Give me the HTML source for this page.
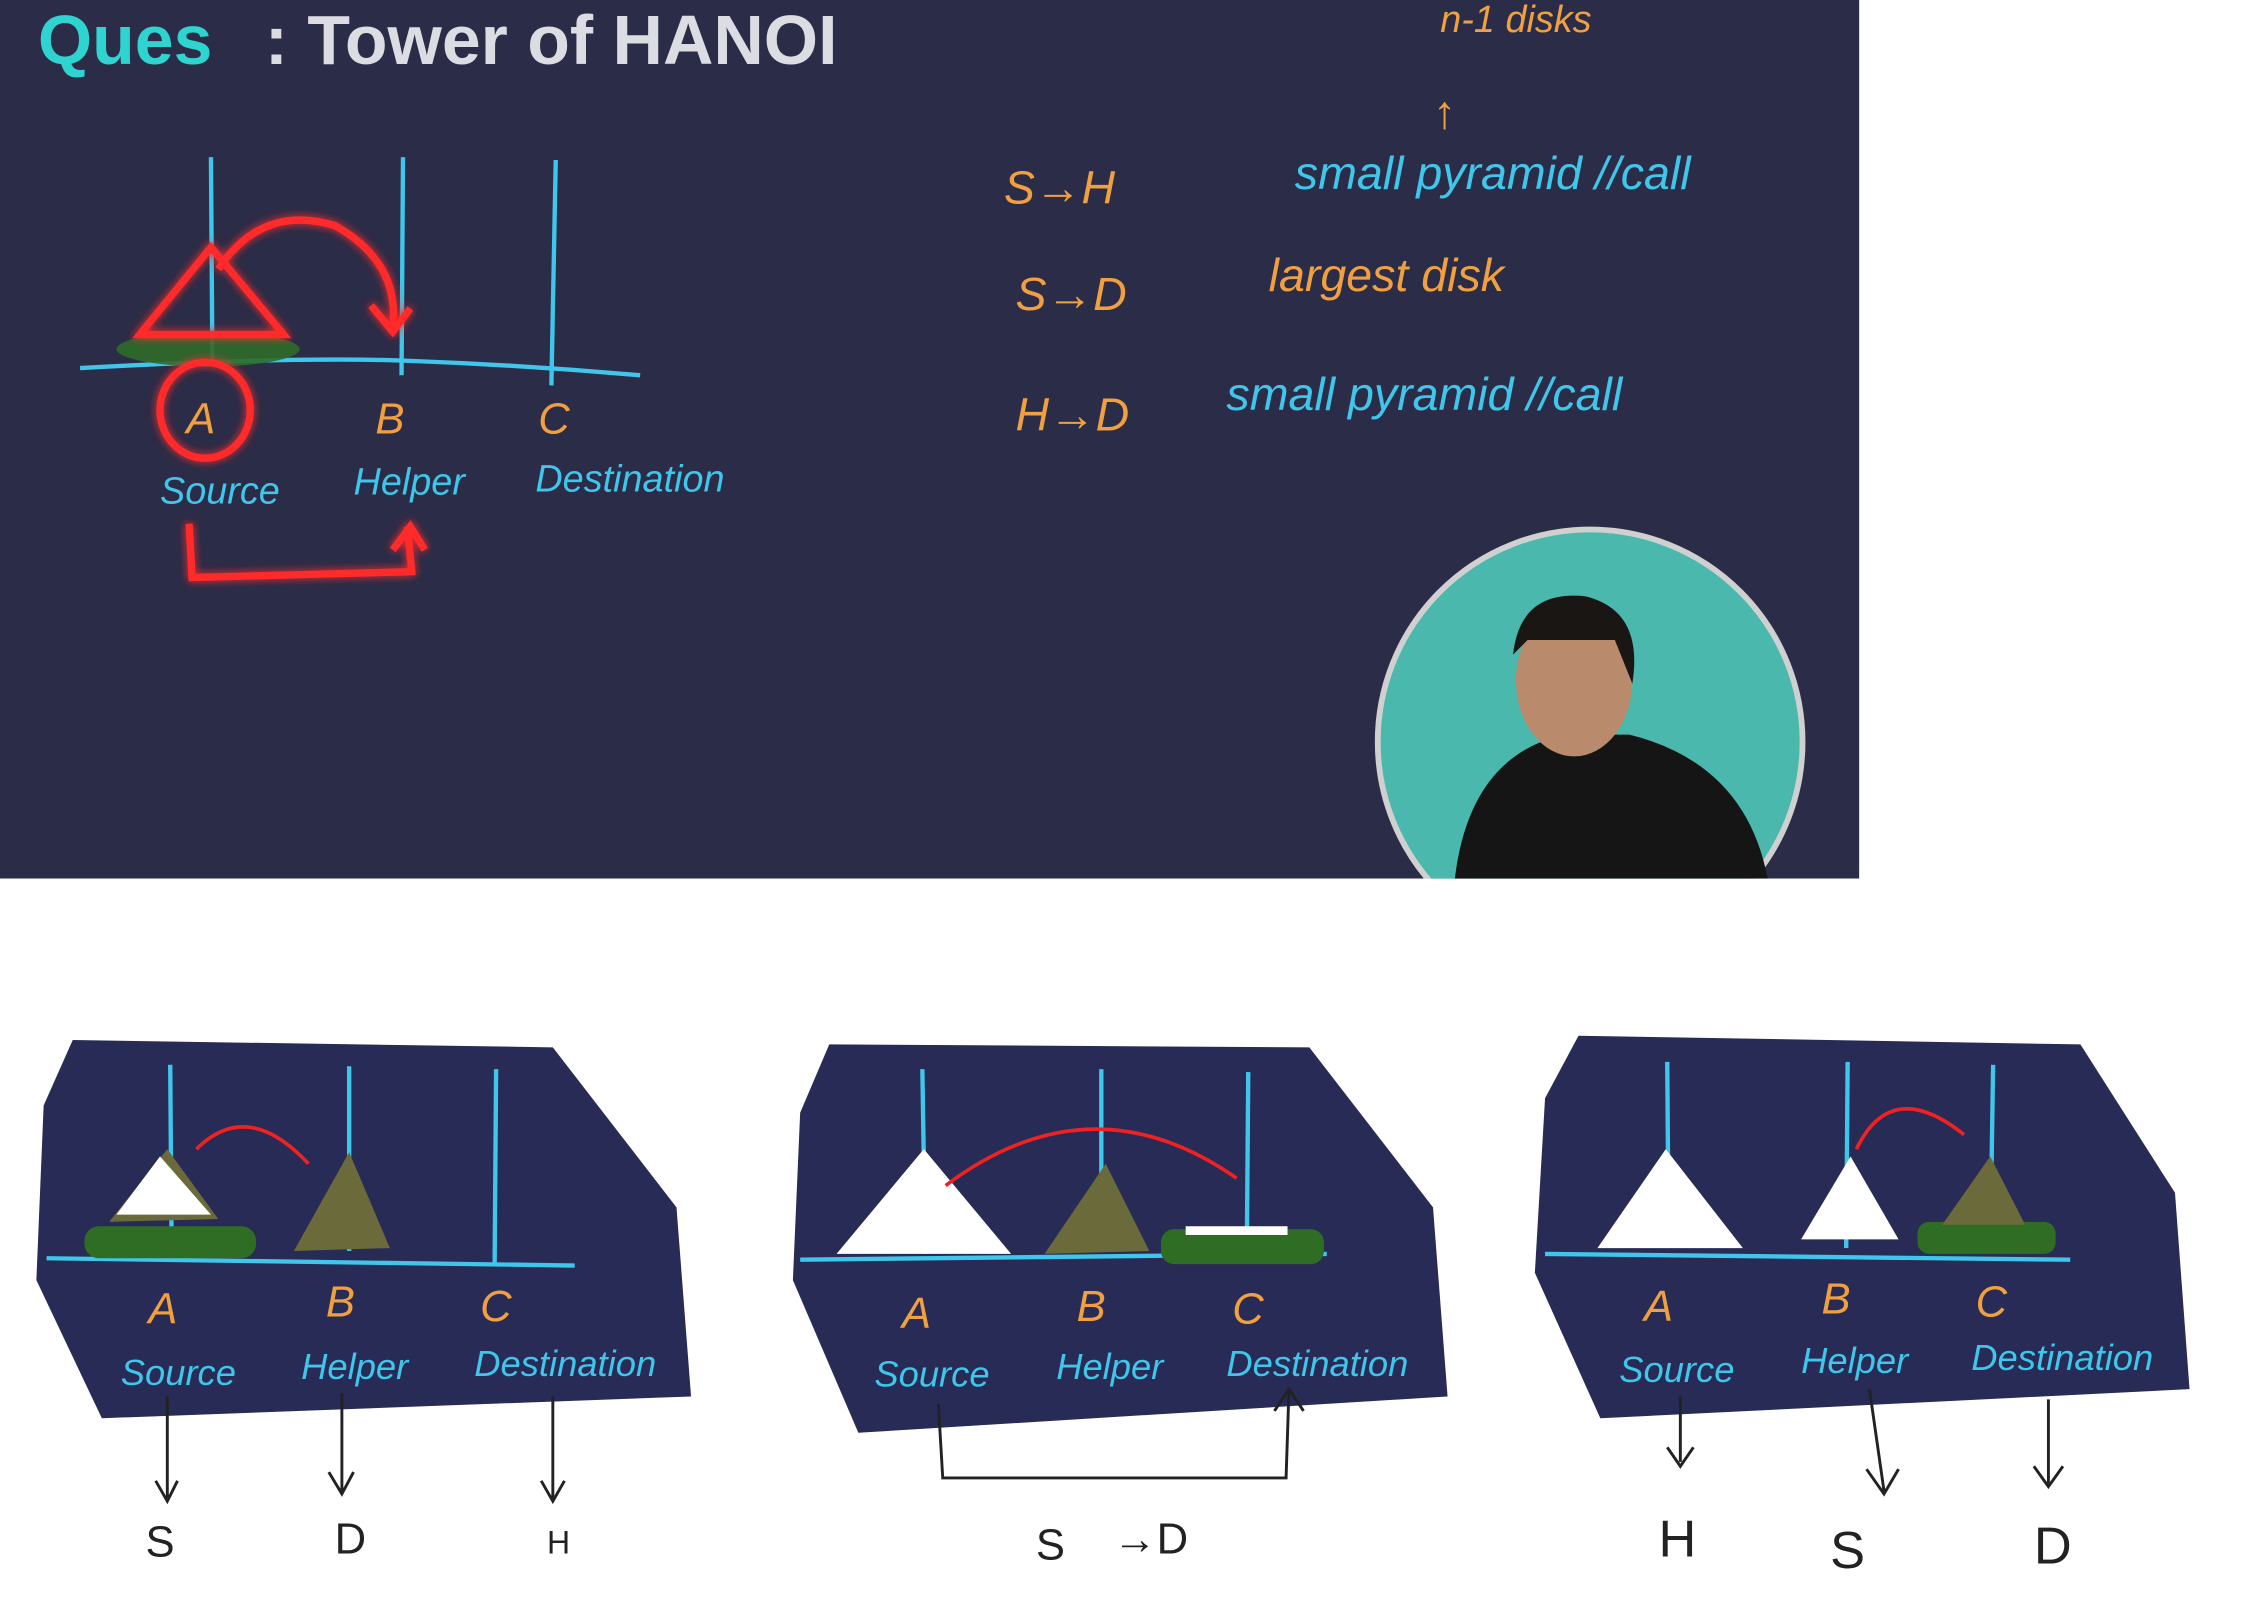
<!DOCTYPE html>
<html><head><meta charset="utf-8"><style>
html,body{margin:0;padding:0;background:#fff;width:2255px;height:1619px;overflow:hidden}
svg{display:block}
text{font-family:"Liberation Sans",sans-serif}
.hw{font-family:"DejaVu Sans","Liberation Sans",sans-serif;font-style:italic}
</style></head><body>
<svg width="2255" height="1619" viewBox="0 0 1550 1113" preserveAspectRatio="none">
<defs>
<filter id="glow" x="-20%" y="-20%" width="140%" height="140%"><feGaussianBlur stdDeviation="3" result="b"/><feMerge><feMergeNode in="b"/><feMergeNode in="SourceGraphic"/></feMerge></filter>
<clipPath id="slideclip"><rect x="0" y="0" width="1278" height="604"/></clipPath>
</defs>
<g clip-path="url(#slideclip)">
<rect x="0" y="0" width="1278" height="604" fill="#2b2c47"/>
<text x="26" y="44" font-size="48" font-weight="bold" fill="#2fd3cf">Ques</text>
<text x="182" y="44" font-size="48" font-weight="bold" fill="#dcdde3">: Tower of HANOI</text>
<g stroke="#3fc6ea" stroke-width="3" fill="none">
<line x1="145" y1="108" x2="146" y2="250"/><line x1="277" y1="108" x2="276" y2="258"/><line x1="382" y1="110" x2="379" y2="265"/>
<path d="M55 253 Q200 245 280 248 T440 258"/>
</g>
<ellipse cx="143" cy="240" rx="63" ry="12" fill="#2e6b2a" opacity="0.9"/>
<g fill="none" stroke="#ff2a2a" stroke-width="5" filter="url(#glow)">
<path d="M145 170 L96 230 L195 230 Z"/>
<path d="M150 185 Q180 140 230 155 Q275 180 270 225 M255 210 L270 228 L282 212"/>
<ellipse cx="141" cy="282" rx="31" ry="33"/>
<path d="M130 360 L132 397 L283 393 L280 362 M270 378 L282 362 L292 378"/>
</g>
<g class="hw" font-size="30" fill="#f0a040">
<text x="128" y="298">A</text><text x="258" y="298">B</text><text x="370" y="298">C</text>
</g>
<g class="hw" font-size="26" fill="#3fc6ea">
<text x="110" y="346">Source</text><text x="243" y="340">Helper</text><text x="368" y="338">Destination</text>
</g>
<g class="hw" font-size="32" fill="#f0a040">
<text x="690" y="140">S→H</text><text x="698" y="213">S→D</text><text x="698" y="296">H→D</text>
<text x="990" y="22" font-size="26">n-1 disks</text><text x="985" y="88">↑</text>
<text x="872" y="200">largest disk</text>
</g>
<g class="hw" font-size="32" fill="#3fc6ea">
<text x="890" y="130">small pyramid //call</text>
<text x="843" y="282">small pyramid //call</text>
</g>
<g>
<circle cx="1093" cy="510" r="146" fill="#4bb8ad" stroke="#d0d0d0" stroke-width="4"/>
<path d="M1000 604 Q1010 520 1075 505 L1120 505 Q1200 525 1215 604 Z" fill="#151515"/>
<ellipse cx="1082" cy="468" rx="40" ry="52" fill="#b98a6c"/>
<path d="M1040 450 Q1045 405 1090 410 Q1130 420 1122 470 L1110 440 L1050 440 Z" fill="#1a1614"/>
</g>
</g>
<g>
<path d="M50 715 L380 720 L465 830 L475 960 L70 975 L25 880 L30 760 Z" fill="#272b55"/>
<g stroke="#3fc6ea" stroke-width="3" fill="none"><line x1="117" y1="732" x2="118" y2="862"/><line x1="240" y1="733" x2="240" y2="860"/><line x1="341" y1="735" x2="340" y2="868"/><line x1="32" y1="865" x2="395" y2="870"/></g>
<rect x="58" y="843" width="118" height="22" rx="10" fill="#2f6d25"/>
<path d="M75 840 L115 790 L150 838 Z" fill="#6b6a3a"/><path d="M80 835 L110 795 L145 835 Z" fill="#fff"/>
<path d="M202 860 L240 792 L268 858 Z" fill="#6b6a3a"/>
<path d="M135 790 Q170 755 212 800" stroke="#e22" stroke-width="2.5" fill="none"/>
<g class="hw" font-size="30" fill="#f0a040"><text x="102" y="910">A</text><text x="224" y="905">B</text><text x="330" y="908">C</text></g>
<g class="hw" font-size="25" fill="#3fc6ea"><text x="83" y="952">Source</text><text x="207" y="948">Helper</text><text x="326" y="946">Destination</text></g>
<g stroke="#222" stroke-width="2" fill="none"><path d="M115 960 L115 1030 M107 1018 L115 1032 L122 1018"/><path d="M235 958 L235 1025 M226 1012 L235 1027 L243 1012"/><path d="M380 960 L380 1030 M372 1018 L380 1032 L388 1018"/></g>
<g font-size="30" fill="#222"><text x="100" y="1070">S</text><text x="230" y="1068">D</text><text x="376" y="1068" font-size="22">H</text></g>
</g>
<g>
<path d="M570 718 L900 720 L985 830 L995 960 L590 985 L545 880 L550 765 Z" fill="#272b55"/>
<g stroke="#3fc6ea" stroke-width="3" fill="none"><line x1="634" y1="735" x2="636" y2="862"/><line x1="757" y1="735" x2="757" y2="860"/><line x1="858" y1="737" x2="857" y2="862"/><line x1="550" y1="866" x2="912" y2="862"/></g>
<path d="M575 862 L635 790 L695 862 Z" fill="#fff"/>
<path d="M718 862 L760 800 L790 860 Z" fill="#6b6a3a"/>
<rect x="798" y="845" width="112" height="24" rx="9" fill="#2f6d25"/><rect x="815" y="843" width="70" height="6" fill="#fff"/>
<path d="M650 815 Q750 740 850 810" stroke="#e22" stroke-width="2.5" fill="none"/>
<g class="hw" font-size="30" fill="#f0a040"><text x="620" y="913">A</text><text x="740" y="908">B</text><text x="847" y="910">C</text></g>
<g class="hw" font-size="25" fill="#3fc6ea"><text x="601" y="953">Source</text><text x="726" y="948">Helper</text><text x="843" y="946">Destination</text></g>
<path d="M645 965 L648 1016 L884 1016 L886 955 M876 970 L886 955 L896 970" stroke="#222" stroke-width="2" fill="none"/>
<g font-size="30" fill="#222"><text x="712" y="1072">S</text><text x="765" y="1068">→D</text></g>
</g>
<g>
<path d="M1085 712 L1430 718 L1495 820 L1505 955 L1100 975 L1055 875 L1062 755 Z" fill="#272b55"/>
<g stroke="#3fc6ea" stroke-width="3" fill="none"><line x1="1146" y1="730" x2="1147" y2="858"/><line x1="1270" y1="730" x2="1269" y2="858"/><line x1="1370" y1="732" x2="1368" y2="860"/><line x1="1062" y1="862" x2="1423" y2="866"/></g>
<path d="M1098 858 L1145 790 L1198 858 Z" fill="#fff"/>
<path d="M1238 852 L1272 795 L1305 852 Z" fill="#fff"/>
<rect x="1318" y="840" width="95" height="22" rx="8" fill="#2f6d25"/><path d="M1335 842 L1368 795 L1392 842 Z" fill="#6b6a3a"/>
<path d="M1276 790 Q1300 740 1350 780" stroke="#e22" stroke-width="2.5" fill="none"/>
<g class="hw" font-size="30" fill="#f0a040"><text x="1130" y="908">A</text><text x="1252" y="903">B</text><text x="1358" y="905">C</text></g>
<g class="hw" font-size="25" fill="#3fc6ea"><text x="1113" y="950">Source</text><text x="1238" y="944">Helper</text><text x="1355" y="942">Destination</text></g>
<g stroke="#222" stroke-width="2" fill="none"><path d="M1155 960 L1155 1005 M1146 995 L1155 1008 L1164 995"/><path d="M1285 955 L1295 1025 M1283 1010 L1295 1027 L1305 1010"/><path d="M1408 962 L1408 1020 M1398 1008 L1408 1022 L1418 1008"/></g>
<g font-size="36" fill="#222"><text x="1140" y="1070">H</text><text x="1258" y="1078">S</text><text x="1398" y="1075">D</text></g>
</g>
</svg>
</body></html>
